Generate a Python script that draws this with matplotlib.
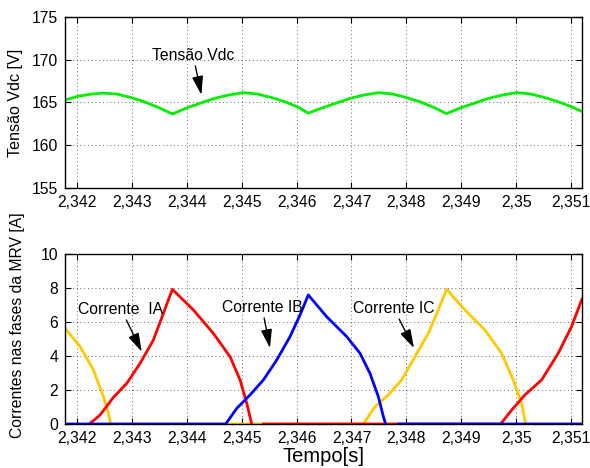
import numpy as np
import matplotlib
matplotlib.use("Agg")
import matplotlib.pyplot as plt

plt.rcParams['font.family'] = ['Liberation Sans', 'DejaVu Sans']

# tensao no barramento CC
t_vdc = [2.34178, 2.34203, 2.34228, 2.34247, 2.34272, 2.34297, 2.34322, 2.34347, 2.34374,
         2.34399, 2.34424, 2.34449, 2.34474, 2.34503, 2.34528, 2.34553, 2.34578, 2.34603, 2.34621,
         2.34646, 2.34671, 2.34696, 2.34721, 2.34749, 2.34774, 2.34799, 2.34824, 2.34849, 2.34873,
         2.34898, 2.34923, 2.34948, 2.34973, 2.35001, 2.35026, 2.35051, 2.35076, 2.35101, 2.3512]
v_vdc = [165.3, 165.75, 166.0, 166.1, 166.0, 165.6, 165.1, 164.45, 163.65,
         164.35, 164.9, 165.45, 165.85, 166.15, 166.0, 165.6, 165.1, 164.45, 163.75,
         164.35, 164.9, 165.45, 165.85, 166.15, 166.0, 165.6, 165.1, 164.45, 163.7,
         164.35, 164.9, 165.45, 165.85, 166.15, 166.0, 165.6, 165.1, 164.5, 163.95]

# fase A (vermelho)
t_ia = [2.342224, 2.342419, 2.342662, 2.342905, 2.343148, 2.34339, 2.343572, 2.343736,
        2.344119, 2.344483, 2.344787, 2.34497, 2.345091, 2.345182, np.nan,
        2.345394, 2.349718, 2.349918, 2.35016, 2.350464, 2.350767, 2.35101, 2.35120]
i_ia = [0.0, 0.53, 1.57, 2.39, 3.57, 4.94, 6.51, 7.92,
        6.71, 5.33, 3.96, 2.59, 1.22, 0.0, np.nan,
        0.0, 0.0, 0.82, 1.71, 2.59, 4.16, 5.73, 7.35]

# fase B (azul)
t_ib = [2.34178, 2.344708, 2.344909, 2.345151, 2.345394, 2.345637, 2.34588, 2.346062, 2.346213,
        2.346548, 2.346913, 2.347155, 2.347337, 2.347489, 2.347581, 2.347623, np.nan,
        2.347853, 2.3512]
i_ib = [0.0, 0.0, 0.92, 1.71, 2.59, 3.76, 5.14, 6.41, 7.59,
        6.31, 5.14, 4.16, 2.98, 1.61, 0.43, 0.0, np.nan,
        0.0, 0.0]

# fase C (amarelo)
t_ic = [2.34178, 2.342055, 2.342297, 2.342479, 2.34257, 2.342614, 2.347215,
        2.347428, 2.34767, 2.347914, 2.348157, 2.348399, 2.348581, 2.348734,
        2.349067, 2.349432, 2.349736, 2.349948, 2.3501, 2.350173, 2.3512]
i_ic = [5.63, 4.55, 3.18, 1.61, 0.63, 0.0, 0.0,
        1.02, 1.71, 2.59, 3.96, 5.33, 6.71, 7.92,
        6.71, 5.53, 4.16, 2.59, 1.22, 0.0, 0.0]

xticks = [2.342, 2.343, 2.344, 2.345, 2.346, 2.347, 2.348, 2.349, 2.350, 2.351]
xticklabels = ['2,342', '2,343', '2,344', '2,345', '2,346', '2,347', '2,348', '2,349', '2,35', '2,351']
xlim = (2.34178, 2.3512)

fig = plt.figure(figsize=(5.9, 4.68), dpi=100)
ax1 = fig.add_axes([0.1102, 0.5983, 0.8762, 0.3654])
ax2 = fig.add_axes([0.1102, 0.0940, 0.8762, 0.3633])

for ax in (ax1, ax2):
    ax.set_xlim(*xlim)
    ax.set_xticks(xticks)
    ax.set_xticklabels(xticklabels)
    ax.grid(True, color='#333333', linestyle=(0, (1, 3.5)), linewidth=0.6)
    ax.tick_params(direction='in', top=True, right=True, labelsize=11.3, length=4, pad=5)
    for s in ax.spines.values():
        s.set_linewidth(1.0)

ax1.plot(t_vdc, v_vdc, color='#00ee00', lw=2.0)
ax1.set_ylim(155, 175)
ax1.set_yticks([155, 160, 165, 170, 175])
ax1.set_ylabel('Tensão Vdc [V]', fontsize=11.6, labelpad=6)

arrow = dict(arrowstyle='-|>,head_length=1.0,head_width=0.3', color='black', lw=1,
             shrinkA=0.5, shrinkB=0)
ax1.annotate('Tensão Vdc', xy=(2.344265, 165.9), xytext=(2.344113, 170.55),
             ha='center', va='center', fontsize=11.3, arrowprops=arrow)

ax2.plot(t_ic, i_ic, color='#ffc800', lw=2.0)
ax2.plot(t_ia, i_ia, color='#ff0000', lw=2.0)
ax2.plot(t_ib, i_ib, color='#0000ff', lw=2.0)
ax2.set_ylim(0, 10)
ax2.set_yticks([0, 2, 4, 6, 8, 10])
ax2.set_ylabel('Correntes nas fases da MRV [A]', fontsize=11.3, labelpad=6)
ax2.yaxis.set_label_coords(-0.077, 0.58)
ax2.set_xlabel('Tempo[s]', fontsize=14.5, labelpad=1)

ax2.annotate('Corrente  IA', xy=(2.343178, 4.25), xytext=(2.342801, 6.76),
             ha='center', va='center', fontsize=11.3, arrowprops=arrow)
ax2.annotate('Corrente IB', xy=(2.345515, 4.47), xytext=(2.34537, 6.88),
             ha='center', va='center', fontsize=11.3, arrowprops=arrow)
ax2.annotate('Corrente IC', xy=(2.348138, 4.47), xytext=(2.347765, 6.82),
             ha='center', va='center', fontsize=11.3, arrowprops=arrow)

fig.savefig('out.png', dpi=100)
